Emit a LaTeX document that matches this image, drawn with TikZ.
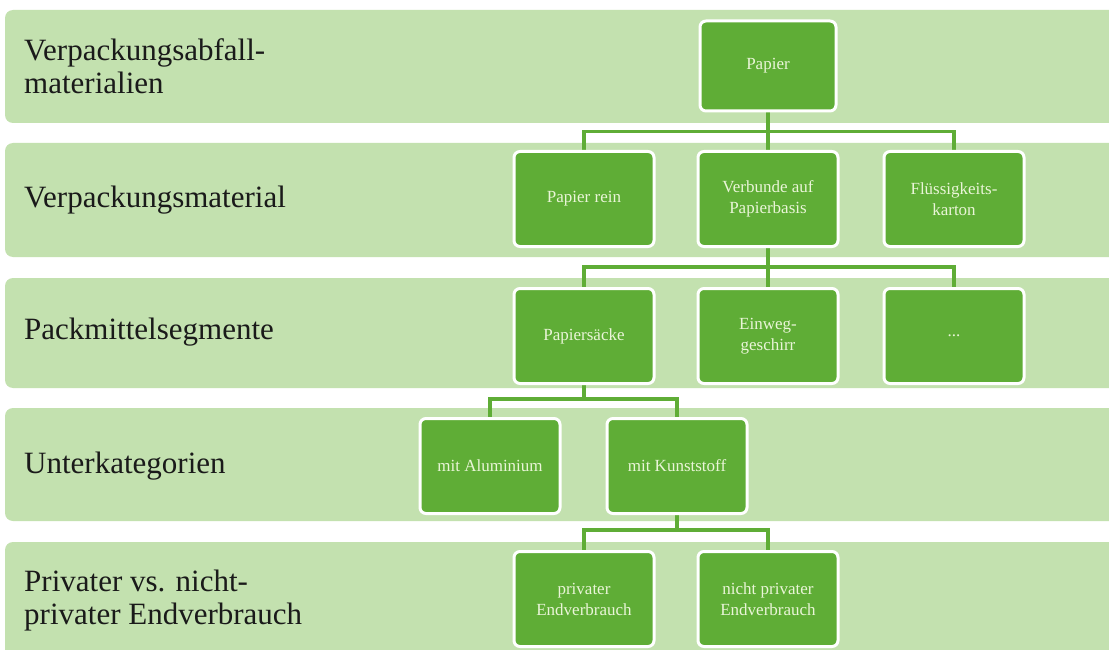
\documentclass[tikz,border=0pt]{standalone}
\usepackage{fontspec}
\setmainfont{Liberation Serif}
\usetikzlibrary{calc}
\pgfdeclarelayer{back}
\pgfdeclarelayer{mid}
\pgfsetlayers{back,mid,main}
\definecolor{bandgreen}{HTML}{C3E1AF}
\definecolor{boxgreen}{HTML}{5FAD36}
\definecolor{boxtext}{HTML}{EAF5D8}
\definecolor{labeltext}{HTML}{1A1A1A}
\tikzset{
  band/.style={fill=bandgreen, rounded corners=8pt},
  catbox/.style={rectangle, rounded corners=6pt, fill=boxgreen, draw=white, line width=3pt,
    minimum width=140pt, minimum height=95pt, text=boxtext, align=center,
    font=\fontsize{17}{21}\selectfont, inner sep=2pt},
  rowlabel/.style={anchor=west, align=left, text=labeltext, font=\fontsize{31}{33}\selectfont, inner sep=0pt},
  conn/.style={draw=boxgreen, line width=3.5pt}
}
\begin{document}
\begin{tikzpicture}[x=1pt,y=-1pt]
\useasboundingbox (0,0) rectangle (1109,650);
\begin{pgfonlayer}{back}
\clip (0,0) rectangle (1109,650);
\fill[white] (0,0) rectangle (1109,650);
\fill[band] (5,10) rectangle (1125,123);
\fill[band] (5,143) rectangle (1125,257);
\fill[band] (5,278) rectangle (1125,388);
\fill[band] (5,408) rectangle (1125,521);
\fill[band] (5,542) rectangle (1125,670);
\end{pgfonlayer}
% labels
\node[rowlabel] (l1) at (24,66) {Verpackungsabfall-\\materialien};
\node[rowlabel] (l2) at (24,200) {Verpackungsmaterial};
\node[rowlabel] (l3) at (24,332) {Packmittelsegmente};
\node[rowlabel] (l4) at (24,466) {Unterkategorien};
\node[rowlabel] (l5) at (24,601) {Privater vs. nicht-\\privater Endverbrauch};
% boxes
\node[catbox, minimum width=136pt, minimum height=90pt] (papier) at (768,66) {Papier};
\node[catbox] (prein) at (584,199) {Papier rein};
\node[catbox] (verb) at (768,199) {Verbunde auf\\Papierbasis};
\node[catbox] (fluss) at (954,199) {Flüssigkeits-\\karton};
\node[catbox] (saecke) at (584,336) {Papiersäcke};
\node[catbox] (einweg) at (768,336) {Einweg-\\geschirr};
\node[catbox] (dots) at (954,336) {...};
\node[catbox] (alu) at (490,466) {mit Aluminium};
\node[catbox] (kunst) at (677,466) {mit Kunststoff};
\node[catbox] (priv) at (584,599) {privater\\Endverbrauch};
\node[catbox] (npriv) at (768,599) {nicht privater\\Endverbrauch};
% connectors
\begin{pgfonlayer}{mid}
\draw[conn] (papier.south) -- ++(0,19) -| (prein.north);
\draw[conn] (papier.south) -- ++(0,19) -| (fluss.north);
\draw[conn] (papier.south) -- (verb.north);
\draw[conn] (verb.south) -- ++(0,19) -| (saecke.north);
\draw[conn] (verb.south) -- ++(0,19) -| (dots.north);
\draw[conn] (verb.south) -- (einweg.north);
\draw[conn] (saecke.south) -- ++(0,14) -| (alu.north);
\draw[conn] (saecke.south) -- ++(0,14) -| (kunst.north);
\draw[conn] (kunst.south) -- ++(0,15) -| (priv.north);
\draw[conn] (kunst.south) -- ++(0,15) -| (npriv.north);
\end{pgfonlayer}
\end{tikzpicture}
\end{document}
